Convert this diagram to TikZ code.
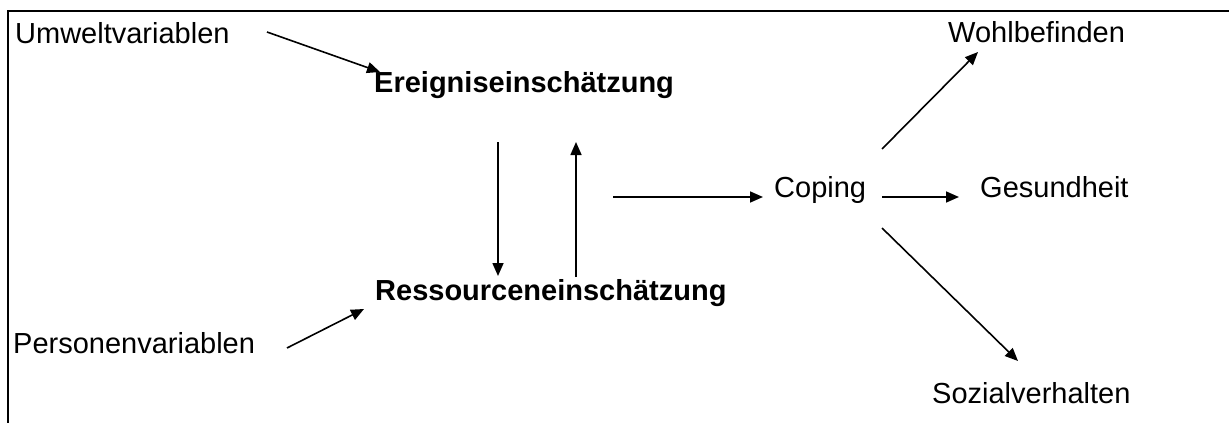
\documentclass[tikz,border=0pt]{standalone}
\usepackage{fontspec}
\setmainfont{Liberation Sans}
\usetikzlibrary{arrows.meta}
\begin{document}
\begin{tikzpicture}[x=1pt,y=-1pt,
  lbl/.style={inner sep=0pt,anchor=base west,font=\fontsize{29}{34}\selectfont},
  blbl/.style={lbl,font=\fontsize{29}{34}\selectfont\bfseries},
  arr/.style={line width=1.6pt,-{Triangle[length=13pt,width=11pt]}},
  frame/.style={line width=2.4pt}]
\useasboundingbox (0,0) rectangle (1229,423);
% frame
\coordinate (ftr) at (1229,11);
\coordinate (ftl) at (8,11);
\coordinate (fbl) at (8,423);
\draw[frame] (ftr) -- (ftl) -- (fbl);
% labels
\node[lbl] (umw) at (15,43) {Umweltvariablen};
\node[lbl] (pers) at (13,353) {Personenvariablen};
\node[blbl] (ereig) at (374,92) {Ereigniseinschätzung};
\node[blbl] (ress) at (375,300) {Ressourceneinschätzung};
\node[lbl] (cop) at (774,197) {Coping};
\node[lbl] (wohl) at (948,42) {Wohlbefinden};
\node[lbl] (ges) at (980,197) {Gesundheit};
\node[lbl] (soz) at (932,403) {Sozialverhalten};
% connector ends
\coordinate (a1s) at (267,32);  \coordinate (a1e) at (380,72);
\coordinate (a2s) at (287,348); \coordinate (a2e) at (364,309);
\coordinate (a3s) at (498,142); \coordinate (a3e) at (498,276);
\coordinate (a4s) at (576,277); \coordinate (a4e) at (576,142);
\coordinate (a5s) at (613,197); \coordinate (a5e) at (763,197);
\coordinate (a6s) at (882,197); \coordinate (a6e) at (959,197);
\coordinate (a7s) at (882,149); \coordinate (a7e) at (978,52);
\coordinate (a8s) at (882,228); \coordinate (a8e) at (1018,361);
% connectors
\draw[arr] (a1s) -- (a1e);
\draw[arr] (a2s) -- (a2e);
\draw[arr] (a3s) -- (a3e);
\draw[arr] (a4s) -- (a4e);
\draw[arr] (a5s) -- (a5e);
\draw[arr] (a6s) -- (a6e);
\draw[arr] (a7s) -- (a7e);
\draw[arr] (a8s) -- (a8e);
\end{tikzpicture}
\end{document}
